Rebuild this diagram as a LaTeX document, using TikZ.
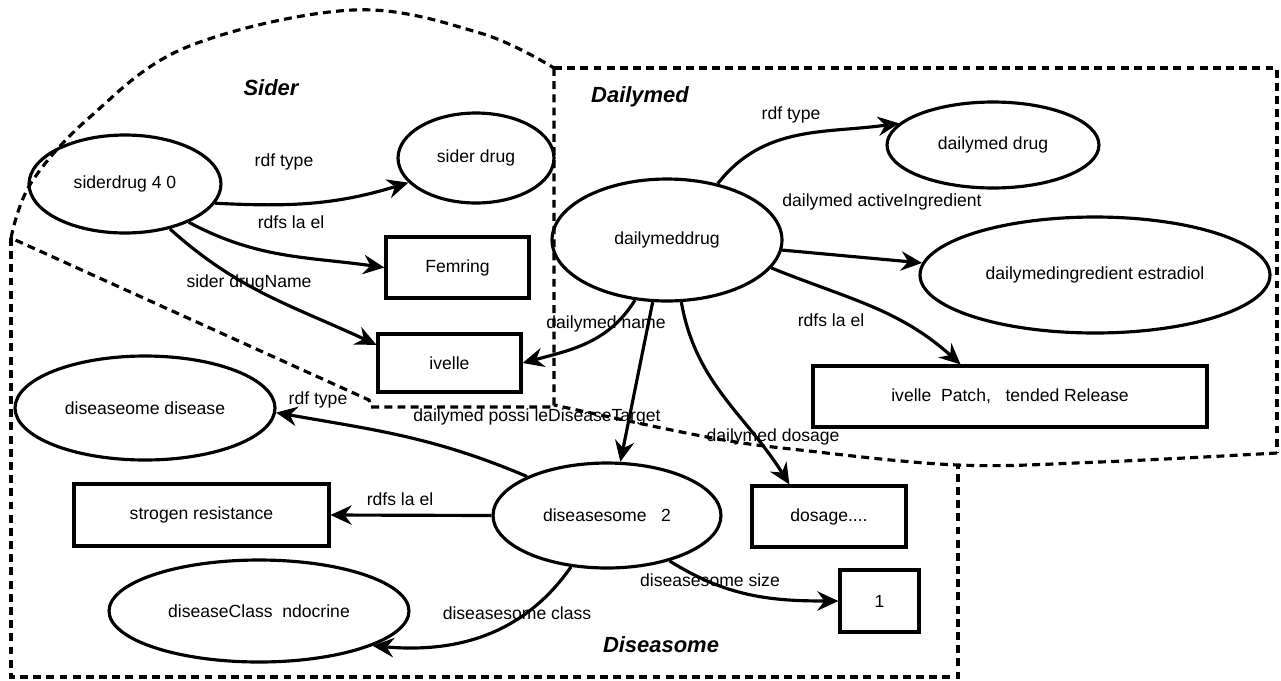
\documentclass[tikz,border=0pt]{standalone}
\usepackage{fontspec}
\setmainfont{Liberation Sans}
\usetikzlibrary{shapes.geometric,arrows.meta}
\begin{document}
\begin{tikzpicture}[x=0.02cm,y=-0.02cm,
  txt/.style={font=\fontsize{10}{12}\selectfont},
  ell/.style={draw, ellipse, line width=1.8pt, inner sep=0pt, txt},
  box/.style={draw, rectangle, line width=1.8pt, inner sep=0pt, txt},
  arr/.style={line width=1.8pt, -{Stealth[length=12pt,width=11pt,inset=4pt]}},
  region/.style={line width=1.8pt, dash pattern=on 4.5pt off 3pt},
  lbl/.style={inner sep=0pt, txt},
  ttl/.style={inner sep=0pt, font=\fontsize{12.5}{15}\selectfont\bfseries\itshape}]
\useasboundingbox (0,0) rectangle (1281,680);

% regions
\draw[region] plot[smooth, tension=0.6] coordinates {(11,238) (31,183) (90,117) (187,47) (353,10) (480,33) (554,68)};
\draw[region] (554,68) -- (1277,68) -- (1277,453);
\draw[region] plot[smooth, tension=0.6] coordinates {(1277,453) (1100,462) (958,465) (800,450) (707,437) (554,405)};
\draw[region] (554,68) -- (554,407) -- (371,407) -- (369,400) -- (11,238);
\draw[region] (11,238) -- (11,677) -- (958,677) -- (958,465);

% titles
\node[ttl] (tSider) at (271,88) {Sider};
\node[ttl] (tDaily) at (640,97) {Dailymed};
\node[ttl] (tDis) at (661,645) {Diseasome};

% nodes
\node[ell, minimum width=3.84cm, minimum height=1.96cm] (sd) at (125,184) {siderdrug 4 0};
\node[ell, minimum width=3.12cm, minimum height=1.8cm] (sdt) at (476,158) {sider drug};
\node[box, minimum width=2.86cm, minimum height=1.22cm] (fem) at (457.5,267.5) {Femring};
\node[box, minimum width=2.86cm, minimum height=1.16cm] (iv) at (449.5,363) {ivelle};
\node[ell, minimum width=4.6cm, minimum height=2.44cm] (dd) at (667,240) {dailymeddrug};
\node[ell, minimum width=4.24cm, minimum height=1.72cm] (ddt) at (993,145) {dailymed drug};
\node[ell, minimum width=7.0cm, minimum height=2.32cm] (est) at (1095,275) {dailymedingredient estradiol};
\node[box, minimum width=7.88cm, minimum height=1.22cm] (patch) at (1010,396.5) {ivelle\ \ Patch,\ \ \ tended Release};
\node[ell, minimum width=5.2cm, minimum height=2.08cm] (dis) at (145,408) {diseaseome disease};
\node[box, minimum width=5.1cm, minimum height=1.24cm] (estr) at (201.5,515) {strogen resistance};
\node[ell, minimum width=4.56cm, minimum height=2.1cm] (ds) at (607,515.5) {diseasesome\ \ \ 2};
\node[box, minimum width=3.08cm, minimum height=1.22cm] (dos) at (829,516.5) {dosage....};
\node[box, minimum width=1.58cm, minimum height=1.24cm] (one) at (879.5,601) {1};
\node[ell, minimum width=6.0cm, minimum height=2.04cm] (dc) at (259,611) {diseaseClass\ \ ndocrine};

% edge labels
\node[lbl] (l1) at (284,162) {rdf type};
\node[lbl] (l2) at (291,222) {rdfs la el};
\node[lbl] (l3) at (249,283) {sider drugName};
\node[lbl] (l4) at (791,115) {rdf type};
\node[lbl] (l5) at (882,202) {dailymed activeIngredient};
\node[lbl] (l6) at (831,320) {rdfs la el};
\node[lbl] (l7) at (606,324) {dailymed name};
\node[lbl] (l8) at (537,417) {dailymed possi leDiseaseTarget};
\node[lbl] (l9) at (773,437) {dailymed dosage};
\node[lbl] (l10) at (318,400) {rdf type};
\node[lbl] (l11) at (400,499) {rdfs la el};
\node[lbl] (l12) at (710,580) {diseasesome size};
\node[lbl] (l13) at (517,613) {diseasesome class};

% edges
\draw[arr] (sd.-12) to[out=-3,in=197] (sdt.-160);
\draw[arr] (sd.-31) to[out=-28,in=172] (fem.west);
\draw[arr] (sd.-45) to[out=-42,in=155] (iv.166);
\draw[arr] (dd.48) to[out=52,in=188] (ddt.167);
\draw[arr] (dd.-5) -- (est.176);
\draw[arr] (dd.-15) to[out=-22,in=138] (patch.147);
\draw[arr] (dd.-118) to[out=-122,in=15] (iv.east);
\draw[arr] (dd.-103) -- (ds.76);
\draw[arr] (dd.-77) to[out=-80,in=122] (dos.141);
\draw[arr] (ds.154) to[out=157,in=-10] (dis.-2);
\draw[arr] (ds.west) -- (estr.east);
\draw[arr] (ds.-125) to[out=-125,in=-5] (dc.-17);
\draw[arr] (ds.-36) to[out=-32,in=180] (one.west);
\end{tikzpicture}
\end{document}
